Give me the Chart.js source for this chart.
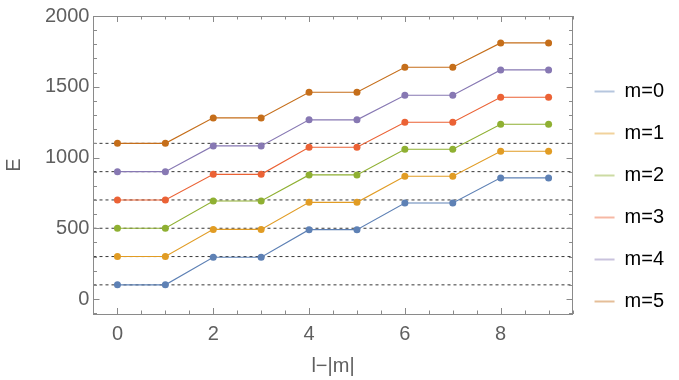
<!DOCTYPE html>
<html>
<head>
<meta charset="utf-8">
<script src="https://cdn.jsdelivr.net/npm/chart.js@4.4.1/dist/chart.umd.min.js"></script>
<style>
  body { margin: 0; background: #fff; }
  #wrap { width: 679px; height: 380px; }
</style>
</head>
<body>
<div id="wrap"><canvas id="energyChart" width="679" height="380"></canvas></div>
<script>
// x = l-|m|
const xValues = [0, 1, 2, 3, 4, 5, 6, 7, 8, 9];

// energies for each m
const seriesLabels = ['m=0', 'm=1', 'm=2', 'm=3', 'm=4', 'm=5'];
const m0 = [100, 100, 295, 295, 490, 490, 678, 678, 856, 856];
const m1 = [300, 300, 492, 492, 683, 683, 867, 867, 1044, 1044];
const m2 = [500, 500, 693, 693, 877, 877, 1058, 1058, 1235, 1235];
const m3 = [700, 700, 881, 881, 1072, 1072, 1249, 1249, 1426, 1426];
const m4 = [900, 900, 1082, 1082, 1266, 1266, 1440, 1440, 1619, 1619];
const m5 = [1100, 1100, 1280, 1280, 1461, 1461, 1638, 1638, 1810, 1810];
const seriesValues = [m0, m1, m2, m3, m4, m5];

// dashed reference levels
const refLevels = [100, 300, 500, 700, 900, 1100];

// tick labels
const xTicks = [0, 2, 4, 6, 8];
const yTicks = [0, 500, 1000, 1500, 2000];

// Mathematica 97 style colours
const colors = ['#5E81B5', '#E19C24', '#8FB032', '#EB6235', '#8778B3', '#C56E1A'];
const paleColors = [
    'rgba(94,129,181,0.45)',
    'rgba(225,156,36,0.45)',
    'rgba(143,176,50,0.45)',
    'rgba(235,98,53,0.45)',
    'rgba(135,120,179,0.45)',
    'rgba(197,110,26,0.45)'
];

const X_MIN = -0.5, X_MAX = 9.5;
const Y_MIN = -106, Y_MAX = 2000;
const labelGray = '#5f5f5f';
const frameGray = '#8a8a8a';
const fontFamily = "'Liberation Sans', Arial, sans-serif";

const seriesDatasets = seriesValues.map((vals, i) => ({
    label: seriesLabels[i],
    data: vals.map((v, j) => ({ x: xValues[j], y: v })),
    borderColor: colors[i],
    backgroundColor: paleColors[i],
    borderWidth: 1.1,
    pointRadius: 3.5,
    pointBackgroundColor: colors[i],
    pointBorderWidth: 0,
    pointHoverRadius: 3.5,
    order: 1
}));

const refDatasets = refLevels.map(level => ({
    label: 'ref',
    data: [{ x: X_MIN, y: level }, { x: X_MAX, y: level }],
    borderColor: 'rgba(20,20,20,0.85)',
    borderWidth: 1,
    borderDash: [3, 3],
    pointRadius: 0,
    order: 2
}));

// frame + inward ticks (major and minor) on all four sides
const frameTicks = {
    id: 'frameTicks',
    afterDraw(chart) {
        const { ctx, chartArea: a, scales } = chart;
        const xs = scales.x, ys = scales.y;
        ctx.save();
        ctx.strokeStyle = frameGray;
        ctx.lineWidth = 1;
        ctx.strokeRect(Math.round(a.left) + 0.5, Math.round(a.top) + 0.5,
            Math.round(a.right - a.left), Math.round(a.bottom - a.top));

        ctx.beginPath();
        for (let v = 0; v <= X_MAX; v += 0.5) {
            const px = Math.round(xs.getPixelForValue(v)) + 0.5;
            const len = (v % 2 === 0) ? 6 : 3.5;
            ctx.moveTo(px, a.bottom); ctx.lineTo(px, a.bottom - len);
            ctx.moveTo(px, a.top); ctx.lineTo(px, a.top + len);
        }
        for (let v = -100; v <= Y_MAX; v += 100) {
            const py = Math.round(ys.getPixelForValue(v)) + 0.5;
            const len = (v % 500 === 0) ? 6 : 3.5;
            ctx.moveTo(a.left, py); ctx.lineTo(a.left + len, py);
            ctx.moveTo(a.right, py); ctx.lineTo(a.right - len, py);
        }
        ctx.stroke();
        ctx.restore();
    }
};

const ctx = document.getElementById('energyChart').getContext('2d');

new Chart(ctx, {
    type: 'line',
    data: { datasets: [...seriesDatasets, ...refDatasets] },
    options: {
        responsive: false,
        animation: false,
        layout: { padding: { left: 2, right: 5, top: 13, bottom: 0 } },
        plugins: {
            tooltip: { enabled: false },
            legend: {
                position: 'right',
                labels: {
                    boxWidth: 20,
                    boxHeight: 2,
                    padding: 22,
                    color: '#000',
                    font: { family: fontFamily, size: 20 },
                    filter: item => item.text !== 'ref',
                    generateLabels(chart) {
                        const items = Chart.defaults.plugins.legend.labels.generateLabels(chart);
                        items.forEach(it => {
                            it.fillStyle = paleColors[it.datasetIndex] || it.fillStyle;
                            it.strokeStyle = 'rgba(0,0,0,0)';
                            it.lineWidth = 0;
                        });
                        return items;
                    }
                }
            }
        },
        scales: {
            x: {
                type: 'linear',
                min: X_MIN,
                max: X_MAX,
                afterBuildTicks: axis => { axis.ticks = xTicks.map(v => ({ value: v })); },
                grid: { display: false, drawTicks: false },
                border: { display: false },
                ticks: {
                    padding: 8,
                    color: labelGray,
                    font: { family: fontFamily, size: 20 },
                    callback: v => String(v)
                },
                title: {
                    display: true,
                    text: 'l\u2212|m|',
                    color: labelGray,
                    font: { family: fontFamily, size: 20 },
                    padding: { top: 0, bottom: 2 }
                }
            },
            y: {
                type: 'linear',
                min: Y_MIN,
                max: Y_MAX,
                afterBuildTicks: axis => { axis.ticks = yTicks.map(v => ({ value: v })); },
                grid: { display: false, drawTicks: false },
                border: { display: false },
                ticks: {
                    padding: 4,
                    color: labelGray,
                    font: { family: fontFamily, size: 20 },
                    callback: v => String(v)
                },
                title: {
                    display: true,
                    text: 'E',
                    color: labelGray,
                    font: { family: fontFamily, size: 20 },
                    padding: { top: 0, bottom: 15 }
                }
            }
        }
    },
    plugins: [frameTicks]
});
</script>
</body>
</html>
